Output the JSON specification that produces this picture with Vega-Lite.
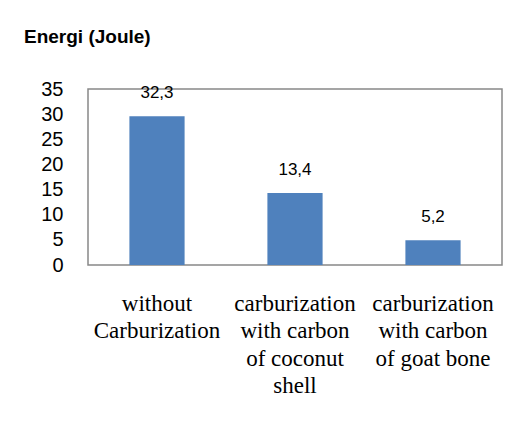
{
  "$schema": "https://vega.github.io/schema/vega-lite/v6.json",
  "autosize": "none",
  "width": 414,
  "height": 176,
  "padding": {"left": 88, "top": 89, "right": 24, "bottom": 158},
  "background": "white",
  "title": {
    "text": "Energi (Joule)",
    "anchor": "start",
    "frame": "group",
    "dx": -64,
    "offset": 32,
    "font": "Liberation Sans",
    "fontSize": 19,
    "fontWeight": "bold",
    "color": "black"
  },
  "data": {
    "values": [
      {"treatment": "without|Carburization", "energy": 29.6, "label": "32,3"},
      {"treatment": "carburization|with carbon|of coconut|shell", "energy": 14.3, "label": "13,4"},
      {"treatment": "carburization|with carbon|of goat bone", "energy": 4.9, "label": "5,2"}
    ]
  },
  "encoding": {
    "x": {
      "field": "treatment",
      "type": "nominal",
      "sort": null,
      "scale": {"paddingInner": 0.6, "paddingOuter": 0.3},
      "axis": {
        "title": null,
        "labelAngle": 0,
        "labelExpr": "split(datum.value, '|')",
        "labelFont": "Liberation Serif",
        "labelFontSize": 23,
        "labelLineHeight": 27.5,
        "labelColor": "black",
        "labelPadding": 27,
        "ticks": false,
        "domain": false,
        "labelLimit": 0
      }
    },
    "y": {
      "field": "energy",
      "type": "quantitative",
      "scale": {"domain": [0, 35]},
      "axis": {
        "title": null,
        "values": [0, 5, 10, 15, 20, 25, 30, 35],
        "grid": false,
        "ticks": false,
        "domain": false,
        "labelFont": "Liberation Sans",
        "labelFontSize": 20,
        "labelColor": "black",
        "labelPadding": 25
      }
    }
  },
  "layer": [
    {"mark": {"type": "bar", "color": "#4F81BD"}},
    {
      "mark": {"type": "text", "dy": -23, "baseline": "middle", "font": "Liberation Sans", "fontSize": 17, "color": "black"},
      "encoding": {"text": {"field": "label"}}
    }
  ],
  "config": {
    "view": {"stroke": "#888888", "strokeWidth": 1.5}
  }
}
